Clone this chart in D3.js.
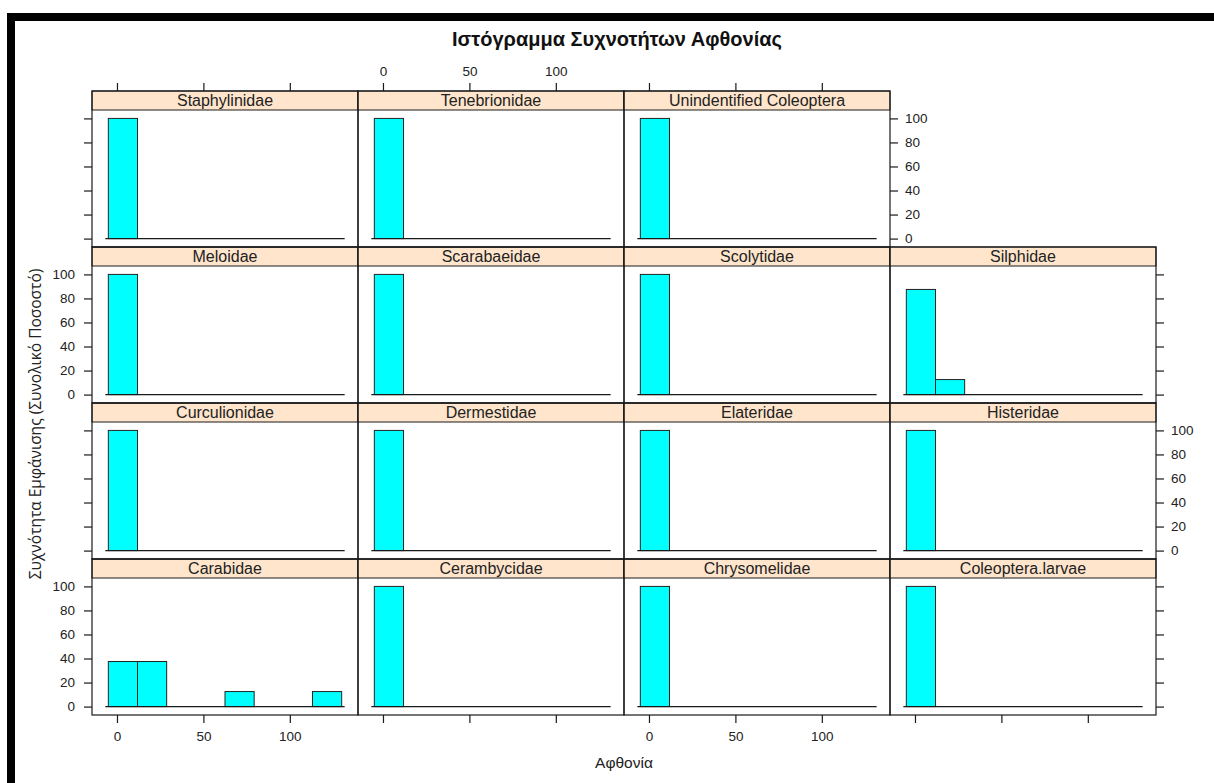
<!DOCTYPE html>
<html>
<head>
<meta charset="utf-8">
<script src="https://cdn.jsdelivr.net/npm/d3@7"></script>
<style>
  html, body { margin: 0; padding: 0; background: #fff; }
  svg { display: block; font-family: "Liberation Sans", Arial, sans-serif; }
</style>
</head>
<body>
<svg id="chart" width="1214" height="783"></svg>
<script>
// Families in lattice panel order (bottom-left first, filled row by row upward)
const families = [
  "Carabidae", "Cerambycidae", "Chrysomelidae", "Coleoptera.larvae",
  "Curculionidae", "Dermestidae", "Elateridae", "Histeridae",
  "Meloidae", "Scarabaeidae", "Scolytidae", "Silphidae",
  "Staphylinidae", "Tenebrionidae", "Unindentified Coleoptera"
];

// Histogram bin edges for abundance (8 equal bins)
const breaks = [-5, 11.875, 28.75, 45.625, 62.5, 79.375, 96.25, 113.125, 130];

// Percent of total per bin, one array per family
const carabidae      = [37.5, 37.5, 0, 0, 12.5, 0, 0, 12.5];
const cerambycidae   = [100, 0, 0, 0, 0, 0, 0, 0];
const chrysomelidae  = [100, 0, 0, 0, 0, 0, 0, 0];
const coleopLarvae   = [100, 0, 0, 0, 0, 0, 0, 0];
const curculionidae  = [100, 0, 0, 0, 0, 0, 0, 0];
const dermestidae    = [100, 0, 0, 0, 0, 0, 0, 0];
const elateridae     = [100, 0, 0, 0, 0, 0, 0, 0];
const histeridae     = [100, 0, 0, 0, 0, 0, 0, 0];
const meloidae       = [100, 0, 0, 0, 0, 0, 0, 0];
const scarabaeidae   = [100, 0, 0, 0, 0, 0, 0, 0];
const scolytidae     = [100, 0, 0, 0, 0, 0, 0, 0];
const silphidae      = [87.5, 12.5, 0, 0, 0, 0, 0, 0];
const staphylinidae  = [100, 0, 0, 0, 0, 0, 0, 0];
const tenebrionidae  = [100, 0, 0, 0, 0, 0, 0, 0];
const unidentified   = [100, 0, 0, 0, 0, 0, 0, 0];

const percents = [
  carabidae, cerambycidae, chrysomelidae, coleopLarvae,
  curculionidae, dermestidae, elateridae, histeridae,
  meloidae, scarabaeidae, scolytidae, silphidae,
  staphylinidae, tenebrionidae, unidentified
];

const xTicks = [0, 50, 100];
const yTicks = [0, 20, 40, 60, 80, 100];

const title  = "Ιστόγραμμα Συχνοτήτων Αφθονίας";
const xTitle = "Αφθονία";
const yTitle = "Συχνότητα Εμφάνισης (Συνολικό Ποσοστό)";

// ---- layout ----
const svg = d3.select("#chart");
const nCols = 4, nRows = 4;
const left0 = 92, top0 = 91;
const panelW = 266, rowH = 156, stripH = 19;
const tickLen = 8;
const stripFill = "#ffe5cc";
const barFill = "#00ffff";
const ink = "#1a1a1a";

// frame around the figure
svg.append("rect").attr("x", 7).attr("y", 13).attr("width", 1207).attr("height", 8).attr("fill", "#000");
svg.append("rect").attr("x", 7).attr("y", 13).attr("width", 8).attr("height", 770).attr("fill", "#000");

// shared scales (domain padded like lattice: 7% on each side)
const xPad = (breaks[breaks.length - 1] - breaks[0]) * 0.07;
const xDomain = [breaks[0] - xPad, breaks[breaks.length - 1] + xPad];
const yDomain = [-7, 107];

const panels = families.map((name, i) => {
  const col = i % nCols;
  const rowFromBottom = Math.floor(i / nCols);
  const row = nRows - 1 - rowFromBottom; // 0 = top
  const x0 = left0 + col * panelW;
  const yTop = top0 + row * rowH;
  const plotTop = yTop + stripH;
  const plotBottom = yTop + rowH;
  const x = d3.scaleLinear().domain(xDomain).range([x0, x0 + panelW]);
  const y = d3.scaleLinear().domain(yDomain).range([plotBottom, plotTop]);
  return { name, values: percents[i], col, row, x0, yTop, plotTop, plotBottom, x, y };
});

const g = svg.append("g");

panels.forEach(p => {
  const pg = g.append("g");
  // bars
  const bins = p.values.map((v, k) => ({ v, a: breaks[k], b: breaks[k + 1] })).filter(d => d.v > 0);
  pg.selectAll("rect.bar").data(bins).join("rect")
    .attr("class", "bar")
    .attr("x", d => p.x(d.a))
    .attr("width", d => p.x(d.b) - p.x(d.a))
    .attr("y", d => p.y(d.v))
    .attr("height", d => p.y(0) - p.y(d.v))
    .attr("fill", barFill)
    .attr("stroke", "#222")
    .attr("stroke-width", 1);
  // baseline
  pg.append("line")
    .attr("x1", p.x(breaks[0]) - 3).attr("x2", p.x(breaks[breaks.length - 1]) + 3)
    .attr("y1", p.y(0)).attr("y2", p.y(0))
    .attr("stroke", ink).attr("stroke-width", 1.2);
  // strip
  pg.append("rect")
    .attr("x", p.x0).attr("y", p.yTop).attr("width", panelW).attr("height", stripH)
    .attr("fill", stripFill).attr("stroke", ink).attr("stroke-width", 1);
  pg.append("text")
    .attr("x", p.x0 + panelW / 2).attr("y", p.yTop + stripH / 2 + 5.5)
    .attr("text-anchor", "middle").attr("font-size", 16).attr("fill", "#222")
    .text(p.name);
  // panel border
  pg.append("rect")
    .attr("x", p.x0).attr("y", p.yTop).attr("width", panelW).attr("height", rowH)
    .attr("fill", "none").attr("stroke", ink).attr("stroke-width", 1.2);
});

// ---- axes (alternating, lattice style) ----
const tickFont = 13.5;
function styleAxis(sel) {
  sel.select(".domain").remove();
  sel.selectAll(".tick line").attr("stroke", ink).attr("stroke-width", 1.2);
  sel.selectAll(".tick text").attr("font-size", tickFont).attr("fill", "#222")
    .attr("font-family", "Liberation Sans, Arial, sans-serif");
}

panels.forEach(p => {
  const rowHasCols = panels.filter(q => q.row === p.row).map(q => q.col);
  const lastCol = d3.max(rowHasCols);
  const fromBottom = nRows - 1 - p.row;
  // left axis
  if (p.col === 0) {
    const labelled = fromBottom % 2 === 0;
    const ax = d3.axisLeft(p.y).tickValues(yTicks).tickSize(tickLen).tickPadding(9)
      .tickFormat(labelled ? d3.format("d") : () => "");
    svg.append("g").attr("transform", `translate(${p.x0},0)`).call(ax).call(styleAxis);
  }
  // right axis
  if (p.col === lastCol) {
    const labelled = fromBottom % 2 === 1;
    const ax = d3.axisRight(p.y).tickValues(yTicks).tickSize(tickLen).tickPadding(7)
      .tickFormat(labelled ? d3.format("d") : () => "");
    svg.append("g").attr("transform", `translate(${p.x0 + panelW},0)`).call(ax).call(styleAxis);
  }
  // bottom axis
  if (p.row === nRows - 1) {
    const labelled = p.col % 2 === 0;
    const ax = d3.axisBottom(p.x).tickValues(xTicks).tickSize(tickLen).tickPadding(8)
      .tickFormat(labelled ? d3.format("d") : () => "");
    svg.append("g").attr("transform", `translate(0,${p.yTop + rowH})`).call(ax).call(styleAxis);
  }
  // top axis
  if (p.row === 0) {
    const labelled = p.col % 2 === 1;
    const ax = d3.axisTop(p.x).tickValues(xTicks).tickSize(tickLen).tickPadding(7)
      .tickFormat(labelled ? d3.format("d") : () => "");
    svg.append("g").attr("transform", `translate(0,${p.yTop})`).call(ax).call(styleAxis);
  }
});

// ---- titles ----
svg.append("text")
  .attr("x", 617).attr("y", 46)
  .attr("text-anchor", "middle").attr("font-size", 20).attr("font-weight", "bold").attr("fill", "#111")
  .text(title);

svg.append("text")
  .attr("x", left0 + nCols * panelW / 2).attr("y", 768)
  .attr("text-anchor", "middle").attr("font-size", 15.5).attr("fill", "#222")
  .text(xTitle);

svg.append("text")
  .attr("transform", "translate(41,424) rotate(-90)")
  .attr("text-anchor", "middle").attr("font-size", 15.5).attr("fill", "#222")
  .attr("font-family", "'Open Sans', 'Noto Sans', sans-serif")
  .text(yTitle);
</script>
</body>
</html>
